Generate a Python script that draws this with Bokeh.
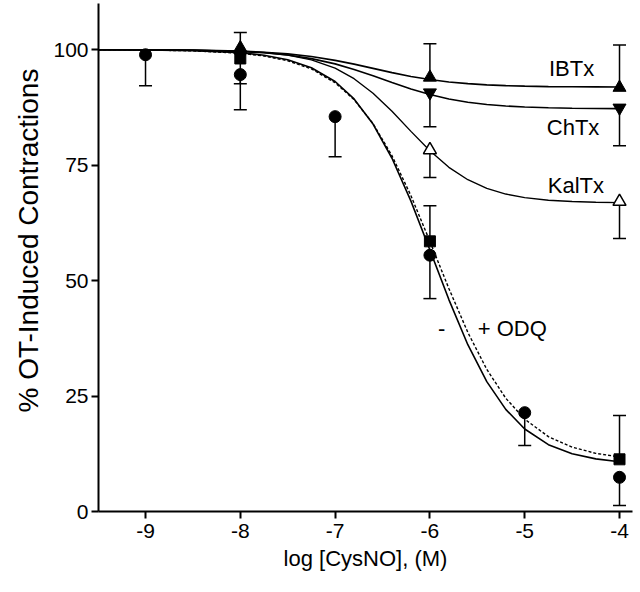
from bokeh.plotting import figure
from bokeh.models import Range1d, FixedTicker, Title
from bokeh.core.properties import value
from bokeh.embed import file_html
from bokeh.resources import INLINE

FONT = "Liberation Sans"

# ---- data ----
# Control (- ODQ), filled circles, error bars drawn downward
ctl_x = [-9, -8, -7, -6, -5, -4]
ctl_y = [98.9, 94.6, 85.5, 55.5, 21.4, 7.4]
ctl_lo = [92.2, 87.0, 76.8, 46.1, 14.3, 1.3]

# + ODQ, filled squares, error bars drawn upward
odq_x = [-8, -6, -4]
odq_y = [98.1, 58.5, 11.3]
odq_hi = [None, 66.2, 20.8]

# IBTx, filled up-triangles, error bars upward
ibtx_x = [-8, -6, -4]
ibtx_y = [100.4, 94.0, 91.8]
ibtx_hi = [103.7, 101.3, 101.0]

# ChTx, filled down-triangles, error bars downward
chtx_x = [-8, -6, -4]
chtx_y = [98.6, 90.7, 87.4]
chtx_lo = [92.6, 83.3, 79.2]

# KalTx, open up-triangles, error bars downward
kal_x = [-6, -4]
kal_y = [78.3, 67.1]
kal_lo = [72.3, 59.1]

# fitted curves
curve_x = [-9.5, -9, -8.5, -8, -7.75, -7.5, -7.25, -7, -6.8, -6.6, -6.4, -6.2,
           -6, -5.8, -5.6, -5.4, -5.2, -5, -4.75, -4.5, -4.25, -4]
curve_ctl = [100.0, 99.94, 99.80, 99.34, 98.80, 97.83, 96.10, 93.11, 89.34, 83.89, 76.49, 67.20,
             56.63, 45.89, 36.12, 28.12, 22.11, 17.87, 14.48, 12.50, 11.39, 10.76]
curve_odq = [99.98, 99.92, 99.76, 99.23, 98.64, 97.61, 95.83, 92.85, 89.18, 83.99, 77.04, 68.37,
             58.48, 48.28, 38.78, 30.77, 24.53, 19.99, 16.21, 13.93, 12.59, 11.81]
curve_ibtx = [99.99, 99.97, 99.90, 99.69, 99.46, 99.09, 98.52, 97.69, 96.87, 95.95, 95.03, 94.21,
              93.53, 93.01, 92.64, 92.38, 92.21, 92.10, 92.01, 91.96, 91.94, 91.92]
curve_chtx = [99.99, 99.96, 99.87, 99.61, 99.32, 98.84, 98.07, 96.93, 95.73, 94.34, 92.87, 91.47,
              90.28, 89.33, 88.63, 88.14, 87.81, 87.59, 87.42, 87.33, 87.27, 87.24]
curve_kal = [99.99, 99.98, 99.91, 99.68, 99.39, 98.83, 97.80, 95.99, 93.72, 90.58, 86.66, 82.31,
             78.10, 74.53, 71.84, 69.97, 68.74, 67.97, 67.41, 67.12, 66.97, 66.89]

x_ticks = [-9, -8, -7, -6, -5, -4]
x_tick_labels = ["-9", "-8", "-7", "-6", "-5", "-4"]
y_ticks = [0, 25, 50, 75, 100]

labels = ["IBTx", "ChTx", "KalTx"]
label_x = [-4.506, -4.49, -4.46]
label_y = [95.95, 83.2, 70.6]

# ---- figure ----
p = figure(width=640, height=592, output_backend="svg", toolbar_location=None,
           x_range=Range1d(-9.496, -3.863), y_range=Range1d(0, 110.0),
           min_border_left=98, min_border_right=8, min_border_top=3, min_border_bottom=81)
p.outline_line_color = None
p.grid.visible = False
p.background_fill_color = "white"
p.border_fill_color = "white"

for ax in (p.xaxis[0], p.yaxis[0]):
    ax.axis_line_width = 2
    ax.axis_line_color = "black"
    ax.major_tick_line_width = 2
    ax.major_tick_line_color = "black"
    ax.minor_tick_line_color = None
    ax.major_tick_in = 0
    ax.major_tick_out = 7
    ax.major_label_text_font = FONT
    ax.major_label_text_font_size = "21px"
    ax.major_label_text_color = "black"
    ax.axis_label_text_font = FONT
    ax.axis_label_text_font_style = "normal"
    ax.axis_label_text_color = "black"

p.xaxis.ticker = FixedTicker(ticks=x_ticks)
p.xaxis.major_label_overrides = {t: s for t, s in zip(x_ticks, x_tick_labels)}
p.yaxis.ticker = FixedTicker(ticks=y_ticks)
p.xaxis.major_label_standoff = 5
p.yaxis.major_label_standoff = 3
p.xaxis.axis_label = "log [CysNO], (M)"
p.xaxis.axis_label_text_font_size = "22px"
p.xaxis.axis_label_standoff = 5

ylab = Title(text="% OT-Induced Contractions", align="left", offset=99,
             text_font=FONT, text_font_size="28px", text_font_style="normal",
             text_color="black", standoff=14)
p.add_layout(ylab, "left")

# curves
p.line(curve_x, curve_ibtx, line_color="black", line_width=1.6)
p.line(curve_x, curve_chtx, line_color="black", line_width=1.6)
p.line(curve_x, curve_kal, line_color="black", line_width=1.4)
p.line(curve_x, curve_odq, line_color="black", line_width=1.4, line_dash="3 2")
p.line(curve_x, curve_ctl, line_color="black", line_width=1.6)

# error bars
def err(xs, ys, ends):
    sx, sy0, sy1 = [], [], []
    for x, y, e in zip(xs, ys, ends):
        if e is None:
            continue
        sx.append(x)
        sy0.append(y)
        sy1.append(e)
    p.segment(sx, sy0, sx, sy1, line_color="black", line_width=1.5)
    p.scatter(sx, sy1, marker="dash", size=13, line_color="black", line_width=1.5)

err(ctl_x, ctl_y, ctl_lo)
err(odq_x, odq_y, odq_hi)
err(ibtx_x, ibtx_y, ibtx_hi)
err(chtx_x, chtx_y, chtx_lo)
err(kal_x, kal_y, kal_lo)

# markers
p.scatter(chtx_x, chtx_y, marker="inverted_triangle", size=13, fill_color="black", line_color="black")
p.scatter(ibtx_x, ibtx_y, marker="triangle", size=13, fill_color="black", line_color="black")
p.scatter(kal_x, kal_y, marker="triangle", size=13, fill_color="white", line_color="black", line_width=1.5)
p.scatter(odq_x, odq_y, marker="square", size=11, fill_color="black", line_color="black")
p.scatter(ctl_x, ctl_y, marker="circle", size=12, fill_color="black", line_color="black")

# annotations
p.text(label_x, label_y, text=labels, text_font=value(FONT), text_font_size="22px",
       text_align="center", text_baseline="middle", text_color="black")
p.text([-5.875], [39.6], text=["-"], text_font=value(FONT), text_font_size="22px",
       text_align="center", text_baseline="middle", text_color="black")
p.text([-5.495], [39.6], text=["+ ODQ"], text_font=value(FONT), text_font_size="22px",
       text_align="left", text_baseline="middle", text_color="black")

open("out.html", "w").write(file_html(p, INLINE))
